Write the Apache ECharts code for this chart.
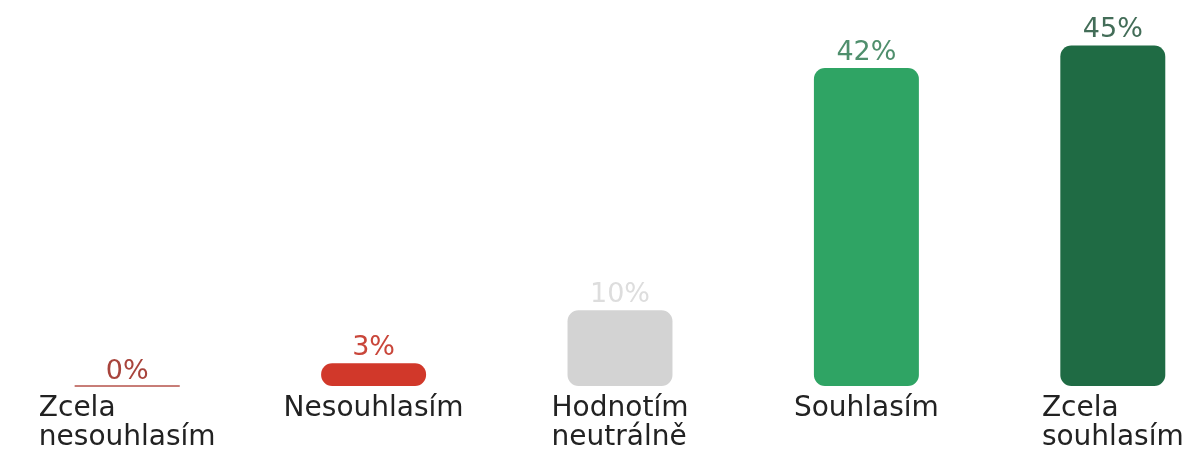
<!DOCTYPE html>
<html><head><meta charset="utf-8">
<script src="https://cdn.jsdelivr.net/npm/echarts@6/dist/echarts.min.js"></script>
<style>html,body{margin:0;padding:0;background:#fff}#c{width:1192px;height:452px}</style>
</head><body><div id="c"></div>
<script>
const categories = ['Zcela\nnesouhlasím', 'Nesouhlasím', 'Hodnotím\nneutrálně', 'Souhlasím', 'Zcela\nsouhlasím'];
const values = [0, 3, 10, 42, 45];
const barColors = ['#b5524a', '#d1382a', '#d3d3d3', '#2fa464', '#1f6b44'];
const labelColors = ['#a8443c', '#c9463a', '#dddddd', '#4f8f6d', '#436d58'];

const FONT = '"DejaVu Sans", sans-serif';
const chart = echarts.init(document.getElementById('c'), null, {renderer: 'canvas'});
chart.setOption({
  animation: false,
  grid: {left: 4, right: -44, top: 0, bottom: 66, containLabel: false, outerBoundsMode: 'none'},
  xAxis: {
    type: 'category', data: categories,
    axisLine: {show: false}, axisTick: {show: false},
    axisLabel: {
      interval: 0, margin: 8, hideOverlap: false,
      formatter: v => '{a|' + v + '}',
      align: 'center', verticalAlign: 'top',
      rich: {a: {align: 'left', fontFamily: FONT, fontSize: 28, lineHeight: 29, color: '#222222'}}
    }
  },
  yAxis: {type: 'value', min: 0, max: 51, show: false, splitLine: {show: false}},
  series: [{
    type: 'bar', barWidth: '42.6%',
    data: values.map((v, i) => ({
      value: v,
      itemStyle: {color: barColors[i], borderRadius: 11, borderColor: i === 0 ? barColors[i] : 'transparent', borderWidth: i === 0 ? 1 : 0},
      label: {color: labelColors[i], distance: i === 0 ? 0 : 2}
    })),
    label: {show: true, position: 'top', formatter: '{c}%', fontFamily: FONT, fontSize: 27}
  }]
});
</script></body></html>
